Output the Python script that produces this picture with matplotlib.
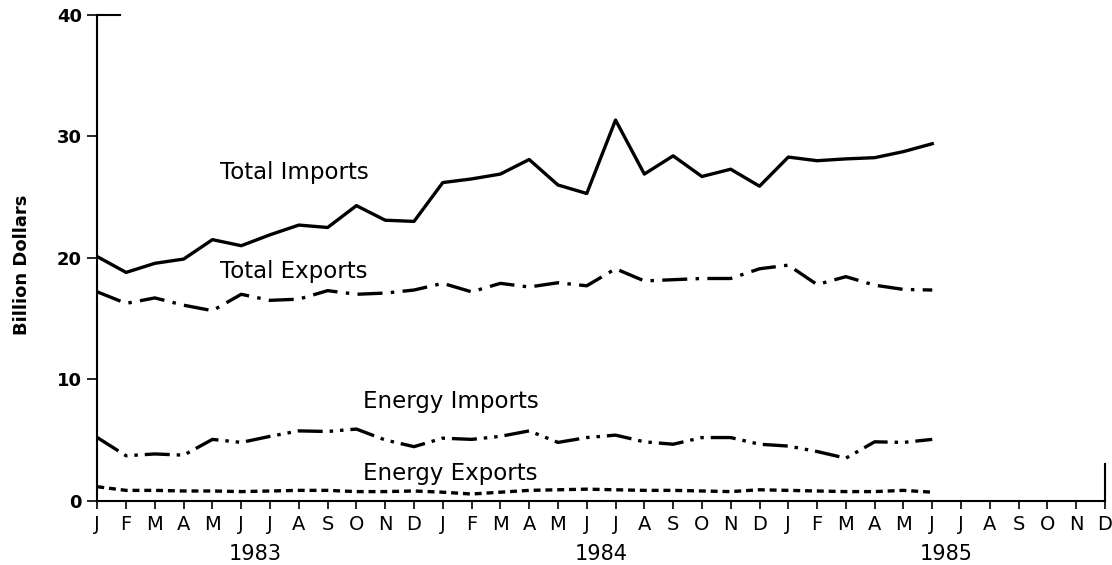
import matplotlib
matplotlib.use("Agg")
import matplotlib.pyplot as plt

plt.rcParams['font.family'] = ['DejaVu Sans']
plt.rcParams['lines.scale_dashes'] = False

months = ["J", "F", "M", "A", "M", "J", "J", "A", "S", "O", "N", "D"] * 3
years = ["1983", "1984", "1985"]

total_imports = [20.1, 18.8, 19.55, 19.9, 21.5, 21.0, 21.9, 22.7, 22.5, 24.3, 23.1, 23.0,
                 26.2, 26.5, 26.9, 28.1, 26.0, 25.3, 31.35, 26.9, 28.4, 26.7, 27.3, 25.9,
                 28.3, 28.0, 28.15, 28.25, 28.75, 29.4]
total_exports = [17.2, 16.25, 16.7, 16.1, 15.65, 17.0, 16.5, 16.6, 17.3, 17.0, 17.1, 17.35,
                 17.9, 17.2, 17.9, 17.6, 17.95, 17.7, 19.1, 18.1, 18.2, 18.3, 18.3, 19.1,
                 19.4, 17.8, 18.45, 17.75, 17.4, 17.35]
energy_imports = [5.2, 3.7, 3.85, 3.75, 5.05, 4.8, 5.3, 5.75, 5.7, 5.9, 5.0, 4.45,
                  5.15, 5.05, 5.3, 5.75, 4.8, 5.2, 5.4, 4.85, 4.65, 5.2, 5.2, 4.65,
                  4.5, 4.05, 3.5, 4.85, 4.8, 5.05]
energy_exports = [1.15, 0.85, 0.85, 0.8, 0.8, 0.75, 0.8, 0.85, 0.85, 0.75, 0.75, 0.8,
                  0.7, 0.55, 0.7, 0.85, 0.9, 0.95, 0.9, 0.85, 0.85, 0.8, 0.75, 0.9,
                  0.85, 0.8, 0.75, 0.75, 0.85, 0.7]

fig = plt.figure(figsize=(11.12, 5.65), dpi=100)
ax = fig.add_axes([97.3 / 1112, 1 - 500.7 / 565, (1105 - 97.3) / 1112, (500.7 - 15) / 565])

x = list(range(len(total_imports)))
lw = 2.4
ax.plot(x, total_imports, color='black', lw=lw)
ax.plot(x, total_exports, color='black', lw=lw, linestyle=(0, (18, 6, 2.5, 6)))
ax.plot(x, energy_imports, color='black', lw=lw, linestyle=(0, (18, 5, 2.5, 5, 2.5, 5)))
ax.plot(x, energy_exports, color='black', lw=lw, linestyle=(0, (5, 3.5)))

ax.set_xlim(0, 35)
ax.set_ylim(0, 40)
ax.set_xticks(range(36))
ax.set_xticklabels(months, fontsize=14)
ax.set_yticks([0, 10, 20, 30, 40])
ax.set_yticklabels(["0", "10", "20", "30", "40"], fontsize=13, fontweight='bold')
ax.tick_params(axis='x', direction='out', length=6, width=1.2, pad=4)
ax.tick_params(axis='y', direction='out', length=7, width=1.2, pad=4)

for s in ['top', 'right']:
    ax.spines[s].set_visible(False)
for s in ['left', 'bottom']:
    ax.spines[s].set_linewidth(1.5)

# short top and right edge segments
ax.plot([0, 0.8], [40, 40], color='black', lw=1.5, clip_on=False)
ax.plot([35, 35], [0, 3.0], color='black', lw=1.5, clip_on=False)

for i, yr in enumerate(years):
    ax.text(5.5 + 12 * i, -4.35, yr, ha='center', va='center', fontsize=15)

ax.text(4.26, 27.0, "Total Imports", ha='left', va='center', fontsize=16.5)
ax.text(4.26, 18.9, "Total Exports", ha='left', va='center', fontsize=16.5)
ax.text(9.23, 8.15, "Energy Imports", ha='left', va='center', fontsize=16.5)
ax.text(9.23, 2.2, "Energy Exports", ha='left', va='center', fontsize=16.5)

fig.text(22 / 1112, 1 - 265 / 565, "Billion Dollars", rotation=90, ha='center', va='center',
         fontsize=13, fontweight='bold')

fig.savefig("out.png", dpi=100)
